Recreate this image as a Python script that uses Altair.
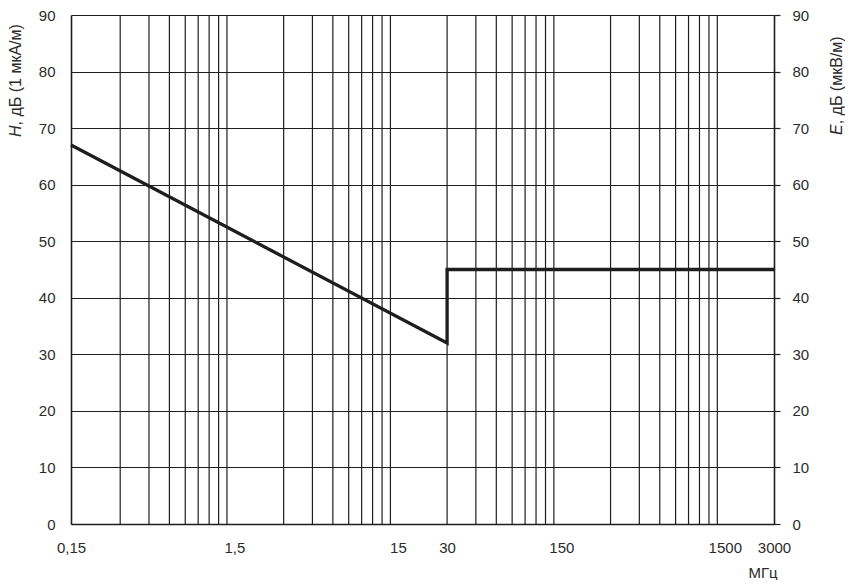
import altair as alt
import pandas as pd

# ---- data ----
freq_mhz = [0.15, 30, 30, 3000]
level_db = [67, 32, 45, 45]

x_tick_values = [0.15, 1.5, 15, 30, 150, 1500, 3000]
y_tick_values = [0, 10, 20, 30, 40, 50, 60, 70, 80, 90]
decade_starts = [0.15, 1.5, 15, 150, 1500]
multipliers = [2, 3, 4, 5, 6, 7, 8, 9]

left_title_italic = "H"
left_title_rest = ", дБ (1 мкА/м)"
right_title_italic = "E"
right_title_rest = ", дБ (мкВ/м)"
x_unit = "МГц"

FONT = "Liberation Sans"
FS = 15
TFS = 16
INK = "#1e1e1e"
TEXT = "#2b2b2b"

line_df = pd.DataFrame({"f": freq_mhz, "v": level_db, "o": list(range(len(freq_mhz)))})
grid_df = pd.DataFrame({"f": [d * m for d in decade_starts for m in multipliers if d * m < 2999]})
tdf = pd.DataFrame({"k": [0]})

xs = alt.Scale(type="log", domain=[0.15, 3000], nice=False)
ys = alt.Scale(domain=[0, 90], nice=False)

PW, PH = 703, 509
PAD = {"left": 63, "top": 7, "right": 71, "bottom": 56}

x_axis = alt.Axis(
    values=x_tick_values,
    labelExpr="replace(format(datum.value, '~g'), '.', ',')",
    grid=False, ticks=False, tickSize=0,
    domainColor=INK, domainWidth=1.6,
    labelFont=FONT, labelFontSize=FS, labelColor=TEXT,
    labelPadding=16, labelFlush=False, labelOverlap=False,
    title=None,
)

vgrid = alt.Chart(grid_df).mark_rule(color=INK, strokeWidth=1.2).encode(
    x=alt.X("f:Q", scale=xs, axis=x_axis)
)

line = alt.Chart(line_df).mark_line(
    color=INK, strokeWidth=3.3, strokeJoin="miter", strokeCap="butt"
).encode(
    x=alt.X("f:Q", scale=xs, axis=x_axis),
    y=alt.Y(
        "v:Q", scale=ys,
        axis=alt.Axis(
            orient="left", values=y_tick_values,
            grid=True, gridColor=INK, gridWidth=1.2, gridOpacity=1,
            ticks=False, tickSize=0,
            domainColor=INK, domainWidth=1.6,
            labelFont=FONT, labelFontSize=FS, labelColor=TEXT,
            labelPadding=16, labelFlush=False, labelOverlap=False,
            title=None,
        ),
    ),
    order="o:Q",
)

right = alt.Chart(line_df).mark_point(opacity=0).encode(
    x=alt.X("f:Q", scale=xs, axis=x_axis),
    y=alt.Y(
        "v:Q", scale=ys,
        axis=alt.Axis(
            orient="right", values=y_tick_values,
            grid=False, ticks=True, tickSize=6, tickColor=INK, tickWidth=1.2,
            domainColor=INK, domainWidth=1.6,
            labelFont=FONT, labelFontSize=FS, labelColor=TEXT,
            labelPadding=12, labelFlush=False, labelOverlap=False,
            title=None,
        ),
    ),
)


def label(text, x, y, angle=0, italic=False, align="left", size=TFS):
    return alt.Chart(tdf).mark_text(
        text=text, font=FONT, fontSize=size, fontStyle="italic" if italic else "normal",
        color=TEXT, angle=angle, align=align, baseline="alphabetic",
    ).encode(x=alt.value(x), y=alt.value(y))


h_w = 11.6
e_w = 10.7
texts = [
    label(left_title_italic, -50, 122, angle=270, italic=True),
    label(left_title_rest, -50, 122 - h_w, angle=270),
    label(right_title_italic, 771, 120, angle=270, italic=True),
    label(right_title_rest, 771, 120 - e_w, angle=270),
    label(x_unit, 692, 563, align="center", size=FS),
]

chart = alt.layer(vgrid, line, right, *texts).resolve_axis(y="independent").properties(
    width=PW, height=PH, padding=PAD, autosize=alt.AutoSizeParams(type="none")
).configure_view(strokeWidth=0).configure(background="white")

chart.save("out.html", embed_options={"renderer": "svg", "actions": False})
